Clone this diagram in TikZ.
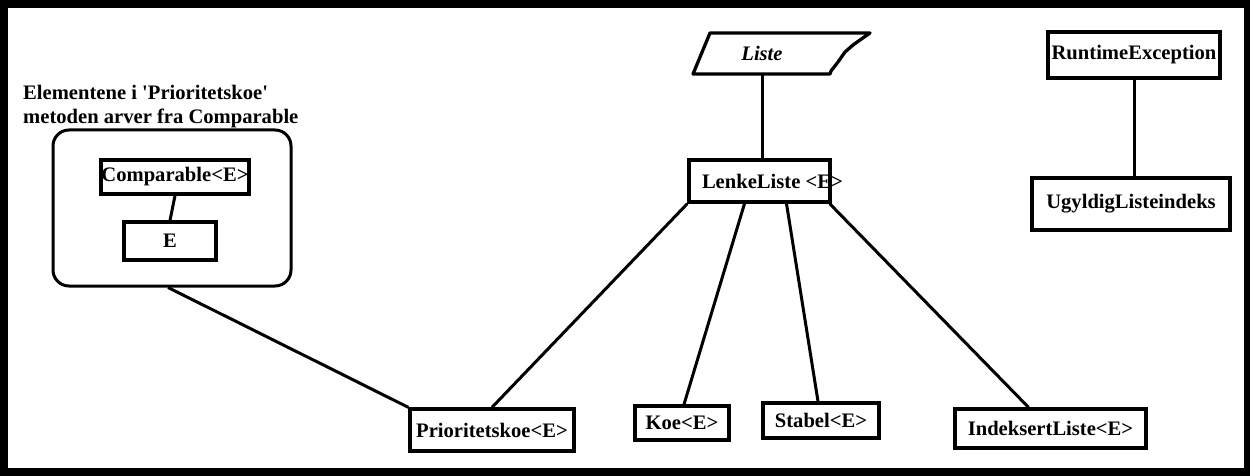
\documentclass[tikz,border=0pt]{standalone}
\usepackage{fontspec}
\setmainfont{Liberation Serif}
\usetikzlibrary{calc}
\begin{document}
\begin{tikzpicture}[x=1pt,y=-1pt,
  every node/.style={font=\bfseries\fontsize{20.6}{23.5}\selectfont, inner sep=0pt},
  box/.style={draw, line width=3.3pt, rectangle},
  conn/.style={line width=3pt},
]
\useasboundingbox (0,0) rectangle (1250,476);
\fill[black] (0,0) rectangle (1250,476);
\fill[white] (8,8) rectangle (1244,468);

% group
\node[anchor=north west, align=left] (title) at (23,85.5) {Elementene i \textquotesingle Prioritetskoe\textquotesingle\\metoden arver fra Comparable};
\node[draw, line width=3pt, rounded corners=16pt, minimum width=238pt, minimum height=156pt] (grp) at (172,208) {};
\node[box, minimum width=148pt, minimum height=34pt] (comp) at (175,177) {Comparable<E>};
\node[box, minimum width=92pt, minimum height=38pt] (e) at (170,241) {E};

% Liste
\node[minimum width=120pt, minimum height=41pt, font=\bfseries\itshape\fontsize{20.6}{23.5}\selectfont] (liste) at (762,53.5) {Liste};
\draw[line width=3.3pt, line join=round] (710,33) -- (870,33) -- (860,40) -- (853,45) -- (845,52) -- (838,62) -- (831,71) -- (830,74) -- (693,74) -- cycle;

\node[box, minimum width=141pt, minimum height=42pt, inner xsep=13pt] (lenke) at (759.5,181) {\makebox[115pt][l]{LenkeListe <E>}};

% exceptions
\node[box, minimum width=172pt, minimum height=46pt] (rt) at (1134,55) {RuntimeException};
\node[box, minimum width=198pt, minimum height=52pt] (ug) at (1131,204) {UgyldigListeindeks};
\coordinate (rtfoot) at (rt.south);

% bottom row
\node[box, minimum width=164pt, minimum height=42pt] (prio) at (492,430) {Prioritetskoe<E>};
\node[box, minimum width=94pt, minimum height=34pt] (koe) at (682,423) {Koe<E>};
\node[box, minimum width=116pt, minimum height=35pt] (stabel) at (821,420.5) {Stabel<E>};
\node[box, minimum width=191pt, minimum height=39pt] (ind) at (1050.5,428.5) {IndeksertListe<E>};

% connectors
\draw[conn] (comp.south) -- (e.north);
\draw[conn] ($(grp.south)+(-4,0)$) -- (prio.north west);
\draw[conn] (liste.south) -- (liste.south |- lenke.north);
\draw[conn] (lenke.south west) -- (prio.north);
\draw[conn] ($(lenke.south)+(-15,0)$) -- ($(koe.north)+(2,0)$);
\draw[conn] ($(lenke.south)+(27,0)$) -- ($(stabel.north)+(-3,0)$);
\draw[conn] ($(lenke.south east)+(-2,0)$) -- ($(ind.north)+(-22,0)$);
\draw[conn] (rtfoot) -- (rtfoot |- ug.north);
\end{tikzpicture}
\end{document}
